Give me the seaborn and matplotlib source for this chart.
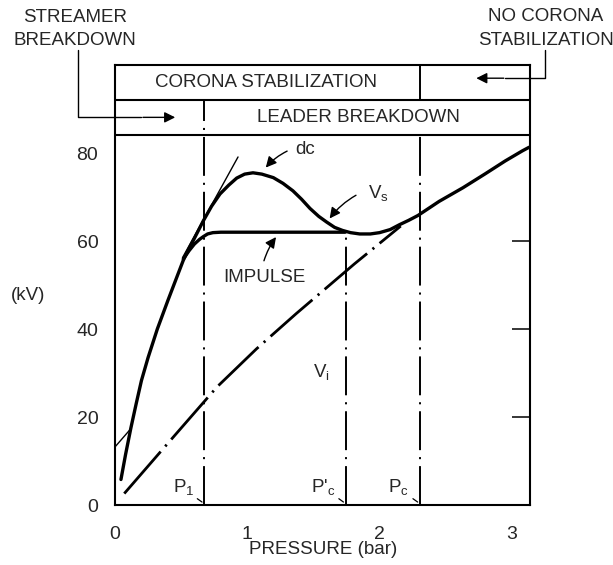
import matplotlib
matplotlib.use("Agg")
import matplotlib.pyplot as plt
import seaborn as sns
import pandas as pd

# --- breakdown voltage curves (pressure in bar, voltage in kV) ---
dc_p = [0.045, 0.08, 0.12, 0.16, 0.20, 0.25, 0.32, 0.40, 0.47, 0.516,
        0.56, 0.60, 0.668, 0.73, 0.794, 0.86, 0.92, 0.98, 1.043, 1.11,
        1.197, 1.27, 1.345, 1.41, 1.474, 1.54, 1.60, 1.66, 1.72, 1.78,
        1.85, 1.93, 2.00, 2.08, 2.15, 2.22, 2.29, 2.45, 2.63, 2.80,
        2.95, 3.08, 3.13]
dc_kv = [5.8, 11.5, 17.5, 23.0, 28.3, 33.5, 40.0, 46.5, 52.0, 55.6,
         58.3, 60.6, 64.6, 67.9, 70.7, 72.7, 74.3, 75.2, 75.5, 75.2,
         74.4, 73.1, 71.4, 69.5, 67.4, 65.6, 64.3, 63.1, 62.4, 61.9,
         61.6, 61.6, 61.9, 62.6, 63.7, 64.7, 65.8, 69.0, 72.1, 75.3,
         78.2, 80.5, 81.3]

impulse_p = [0.516, 0.56, 0.60, 0.64, 0.668, 0.70, 0.74, 0.80, 1.20, 1.74]
impulse_kv = [55.9, 57.8, 59.3, 60.4, 61.0, 61.6, 61.9, 62.0, 62.0, 62.0]

vi_p = [0.07, 0.37, 0.77, 1.07, 1.37, 1.81, 2.16]
vi_kv = [2.6, 13.0, 26.8, 35.5, 43.5, 54.8, 63.4]

tangent_p = [0.51, 0.93]
tangent_kv = [56.2, 79.1]
stub_p = [0.0, 0.11]
stub_kv = [13.2, 17.0]

# characteristic pressures
p1, pc_prime, pc = 0.675, 1.744, 2.305

xticks = [0, 1, 2, 3]
yticks = [0, 20, 40, 60, 80]

# regime bands above the plot
band_low, band_mid, band_top = 84, 92, 100

sns.set_style("white")
plt.rcParams["font.family"] = ["Liberation Sans", "DejaVu Sans"]
plt.rcParams["mathtext.fontset"] = "custom"
plt.rcParams["mathtext.rm"] = "Liberation Sans"
plt.rcParams["mathtext.it"] = "Liberation Sans"
plt.rcParams["lines.scale_dashes"] = False

fig = plt.figure(figsize=(6.13, 5.65), dpi=100)
ax = fig.add_axes([115 / 613, 60 / 565, 415 / 613, 440 / 565])

curves = pd.concat([
    pd.DataFrame({"p": dc_p, "kv": dc_kv, "curve": "dc"}),
    pd.DataFrame({"p": impulse_p, "kv": impulse_kv, "curve": "impulse"}),
])
sns.lineplot(data=curves, x="p", y="kv", units="curve", estimator=None,
             sort=False, color="black", lw=2.4, ax=ax, legend=False)

vi = pd.DataFrame({"p": vi_p, "kv": vi_kv})
sns.lineplot(data=vi, x="p", y="kv", sort=False, color="black", lw=2.0,
             ax=ax, legend=False, linestyle=(0, (40, 5, 1.6, 5)))

ax.plot(tangent_p, tangent_kv, color="black", lw=1.0)
ax.plot(stub_p, stub_kv, color="black", lw=1.0, clip_on=False)

dashdot = (0, (28, 5, 1.5, 5))
ax.plot([p1, p1], [0, band_mid], color="black", lw=1.4, linestyle=dashdot)
ax.plot([pc_prime, pc_prime], [0, 62.0], color="black", lw=1.4, linestyle=dashdot)
ax.plot([pc, pc], [0, band_low], color="black", lw=1.4, linestyle=dashdot)
ax.plot([pc, pc], [band_mid, band_top], color="black", lw=1.4, linestyle=dashdot)

ax.axhline(band_low, color="black", lw=1.5)
ax.axhline(band_mid, color="black", lw=1.5)

ax.set_xlim(0, 3.137)
ax.set_ylim(0, band_top)
ax.set_xticks(xticks)
ax.set_xticklabels([str(v) for v in xticks])
ax.set_yticks(yticks)
ax.set_yticklabels([str(v) for v in yticks])
ax.tick_params(axis="x", direction="in", length=14, width=1.3, pad=15,
               labelsize=14)
ax.tick_params(axis="y", direction="in", length=13, width=1.3, pad=12,
               labelsize=14)
sec = ax.secondary_yaxis("right")
sec.set_yticks([20, 40, 60])
sec.set_yticklabels([])
sec.tick_params(direction="in", length=13, width=1.3)
sec.spines["right"].set_visible(False)
ax.set_xlabel("")
ax.set_ylabel("")
for s in ax.spines.values():
    s.set_visible(True)
    s.set_linewidth(1.5)
    s.set_color("black")

fs = 13.5
ax.text(1.14, 96, "CORONA STABILIZATION", ha="center", va="center", fontsize=fs)
ax.text(1.84, 88, "LEADER BREAKDOWN", ha="center", va="center", fontsize=fs)

# side annotations
ax.text(-0.3, 110.8, "STREAMER", ha="center", va="center", fontsize=fs, clip_on=False)
ax.text(-0.3, 105.6, "BREAKDOWN", ha="center", va="center", fontsize=fs, clip_on=False)
ax.plot([-0.28, -0.28, 0.2], [103.4, 88.1, 88.1], color="black", lw=1.0, clip_on=False)
ax.annotate("", xy=(0.476, 88.1), xytext=(0.19, 88.1),
            arrowprops=dict(arrowstyle="-|>", color="black", lw=1.0, mutation_scale=16),
            annotation_clip=False)

ax.text(3.255, 111.0, "NO CORONA", ha="center", va="center", fontsize=fs, clip_on=False)
ax.text(3.255, 105.6, "STABILIZATION", ha="center", va="center", fontsize=fs, clip_on=False)
ax.plot([3.25, 3.25, 2.95], [103.4, 97.0, 97.0], color="black", lw=1.0, clip_on=False)
ax.annotate("", xy=(2.71, 97.0), xytext=(2.96, 97.0),
            arrowprops=dict(arrowstyle="-|>", color="black", lw=1.0, mutation_scale=16),
            annotation_clip=False)

arrow = dict(arrowstyle="-|>", color="black", lw=1.0, mutation_scale=16,
             connectionstyle="arc3,rad=0.12")
ax.text(1.44, 80.7, "dc", ha="center", va="center", fontsize=fs)
ax.annotate("", xy=(1.126, 76.2), xytext=(1.32, 80.7), arrowprops=arrow)
ax.text(1.99, 71.0, r"V$_\mathregular{s}$", ha="center", va="center", fontsize=fs)
ax.annotate("", xy=(1.61, 64.6), xytext=(1.84, 70.7), arrowprops=arrow)
ax.text(1.13, 51.7, "IMPULSE", ha="center", va="center", fontsize=fs)
ax.annotate("", xy=(1.23, 61.4), xytext=(1.12, 54.9),
            arrowprops=dict(arrowstyle="-|>", color="black", lw=1.0, mutation_scale=16,
                            connectionstyle="arc3,rad=-0.1"))
ax.text(1.56, 30.2, r"V$_\mathregular{i}$", ha="center", va="center", fontsize=fs)

# labels at the foot of the characteristic pressure lines
lead = dict(arrowstyle="-", color="black", lw=0.9)
ax.text(0.52, 4.2, r"P$_\mathregular{1}$", ha="center", va="center", fontsize=fs)
ax.annotate("", xy=(p1, 0.3), xytext=(0.605, 1.8), arrowprops=lead)
ax.text(1.575, 4.2, r"P$'_\mathregular{c}$", ha="center", va="center", fontsize=fs)
ax.annotate("", xy=(pc_prime, 0.3), xytext=(1.675, 1.8), arrowprops=lead)
ax.text(2.14, 4.2, r"P$_\mathregular{c}$", ha="center", va="center", fontsize=fs)
ax.annotate("", xy=(pc, 0.3), xytext=(2.235, 1.8), arrowprops=lead)

fig.text(28 / 613, 1 - 295 / 565, "(kV)", ha="center", va="center", fontsize=fs)
fig.text(323 / 613, 1 - 550 / 565, "PRESSURE (bar)", ha="center", va="center", fontsize=fs)

fig.savefig("out.png", dpi=100)
